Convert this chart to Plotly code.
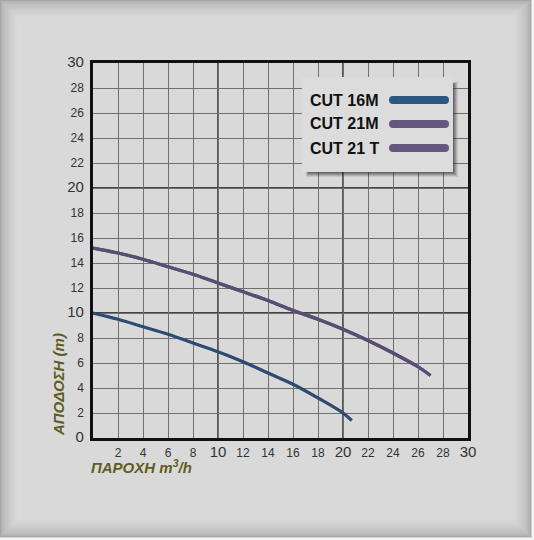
import plotly.graph_objects as go

# ---- data ----
x_16m = [0, 2, 4, 6, 8, 10, 12, 14, 16, 18, 20, 20.7]
y_16m = [10, 9.5, 8.9, 8.3, 7.6, 6.9, 6.1, 5.2, 4.3, 3.2, 2.0, 1.4]
x_21 = [0, 2, 4, 6, 8, 10, 12, 14, 16, 18, 20, 22, 24, 26, 27]
y_21 = [15.2, 14.8, 14.3, 13.7, 13.1, 12.4, 11.7, 11.0, 10.2, 9.5, 8.7, 7.8, 6.8, 5.7, 5.0]
series_names = ["CUT 16M", "CUT 21M", "CUT 21 T"]
series_colors = ["#2e5682", "#65577e", "#65577e"]
curve_colors = ["#2b4b70", "#5a4d72", "#5a4d72"]
x_ticks = list(range(2, 31, 2))
y_ticks = list(range(0, 31, 2))
x_title = "ΠΑΡΟΧΗ m<sup>3</sup>/h"
y_title = "ΑΠΟΔΟΣΗ (m)"

W, H = 534, 540
L, R, T, B = 93, 66, 63, 102
PW, PH = W - L - R, H - T - B


def px(xp):
    return (xp - L) / PW


def py(yp):
    return (H - B - yp) / PH


def tick_text(v):
    if v % 10 == 0:
        return f"<span style='font-size:15px'>{v}</span>"
    return str(v)


fig = go.Figure()
series = [(x_16m, y_16m), (x_21, y_21), (x_21, y_21)]
for (xs, ys), name, col in zip(series, series_names, curve_colors):
    fig.add_trace(go.Scatter(x=xs, y=ys, mode="lines", name=name,
                             line=dict(color=col, width=3.2, shape="spline"),
                             showlegend=False))

shapes = []
# page vignette border
n = 18
for i in range(n):
    t = i / (n - 1)
    g = int(0xa6 + (0xd9 - 0xa6) * (t ** 0.5))
    c = f"rgb({g},{g},{g})"
    shapes.append(dict(type="rect", xref="paper", yref="paper",
                       x0=px(i + 0.5), x1=px(W - 3 - i - 0.5),
                       y0=py(i + 0.5), y1=py(H - 3 - i - 0.5),
                       line=dict(color=c, width=1.2), layer="below"))
# white outer strip right/bottom
shapes.append(dict(type="rect", xref="paper", yref="paper",
                   x0=px(W - 2), x1=px(W), y0=py(0), y1=py(H),
                   fillcolor="#f4f4f4", line=dict(width=0), layer="below"))
shapes.append(dict(type="rect", xref="paper", yref="paper",
                   x0=px(0), x1=px(W), y0=py(H - 2), y1=py(H),
                   fillcolor="#f4f4f4", line=dict(width=0), layer="below"))

# heavier grid lines at 10 and 20
for v in (10, 20):
    shapes.append(dict(type="line", xref="x", yref="paper", x0=v, x1=v, y0=0, y1=1,
                       line=dict(color="#111111", width=1.3), layer="below"))
    shapes.append(dict(type="line", xref="paper", yref="y", x0=0, x1=1, y0=v, y1=v,
                       line=dict(color="#111111", width=1.3), layer="below"))

# legend box with shadow
bx0, bx1, by0, by1 = 302, 453, 77, 172
for k, op in enumerate([0.10, 0.14, 0.18, 0.22, 0.26]):
    off = 5 - k
    shapes.append(dict(type="rect", xref="paper", yref="paper",
                       x0=px(bx0 + 4 + k * 0.5), x1=px(bx1 + off),
                       y0=py(by1 + off), y1=py(by0 + 5 + k * 0.5),
                       fillcolor=f"rgba(40,40,40,{op})", line=dict(width=0), layer="above"))
shapes.append(dict(type="rect", xref="paper", yref="paper",
                   x0=px(bx0), x1=px(bx1), y0=py(by1), y1=py(by0),
                   fillcolor="#dcdcdc", line=dict(width=0), layer="above"))
legend_y = [100, 124, 148]
annotations = []
for name, col, ly in zip(series_names, series_colors, legend_y):
    shapes.append(dict(type="line", xref="paper", yref="paper",
                       x0=px(393), x1=px(445), y0=py(ly), y1=py(ly),
                       line=dict(color=col, width=8), layer="above"))
    shapes.append(dict(type="circle", xref="paper", yref="paper",
                       x0=px(389), x1=px(397), y0=py(ly + 4), y1=py(ly - 4),
                       fillcolor=col, line=dict(width=0), layer="above"))
    shapes.append(dict(type="circle", xref="paper", yref="paper",
                       x0=px(441), x1=px(449), y0=py(ly + 4), y1=py(ly - 4),
                       fillcolor=col, line=dict(width=0), layer="above"))
    annotations.append(dict(xref="paper", yref="paper", x=px(308), y=py(ly),
                            xanchor="left", yanchor="middle", showarrow=False,
                            text=f"<b>{name}</b>",
                            font=dict(family="Liberation Sans, Arial",
                                      size=16, color="#111111")))

annotations.append(dict(xref="paper", yref="paper", x=px(58), y=py(385),
                        xanchor="center", yanchor="middle", showarrow=False,
                        textangle=-90, text=f"<b><i>{y_title}</i></b>",
                        font=dict(family="Liberation Sans, Arial", size=15, color="#5e5e22")))
annotations.append(dict(xref="paper", yref="paper", x=px(89), y=py(466),
                        xanchor="left", yanchor="middle", showarrow=False,
                        text=f"<b><i>{x_title}</i></b>",
                        font=dict(family="Liberation Sans, Arial", size=15, color="#5e5e22")))

fig.update_layout(
    width=W, height=H,
    margin=dict(l=L, r=R, t=T, b=B, pad=0),
    paper_bgcolor="#d9d9d9", plot_bgcolor="#d9d9d9",
    shapes=shapes, annotations=annotations, showlegend=False,
    font=dict(family="Liberation Sans, Arial", size=12, color="#333333"),
)
fig.update_xaxes(range=[0, 30], tickmode="array", tickvals=x_ticks,
                 ticktext=[tick_text(v) for v in x_ticks],
                 showgrid=True, gridcolor="#707070", gridwidth=1,
                 showline=True, linecolor="#111111", linewidth=2.5, mirror=True,
                 zeroline=False, ticks="", ticklabelstandoff=2,
                 tickfont=dict(size=12, color="#333333"))
fig.update_yaxes(range=[0, 30], tickmode="array", tickvals=y_ticks,
                 ticktext=[tick_text(v) for v in y_ticks],
                 showgrid=True, gridcolor="#707070", gridwidth=1,
                 showline=True, linecolor="#111111", linewidth=2.5, mirror=True,
                 zeroline=False, ticks="", ticklabelstandoff=4,
                 tickfont=dict(size=12, color="#333333"))

fig.write_html("out.html")
